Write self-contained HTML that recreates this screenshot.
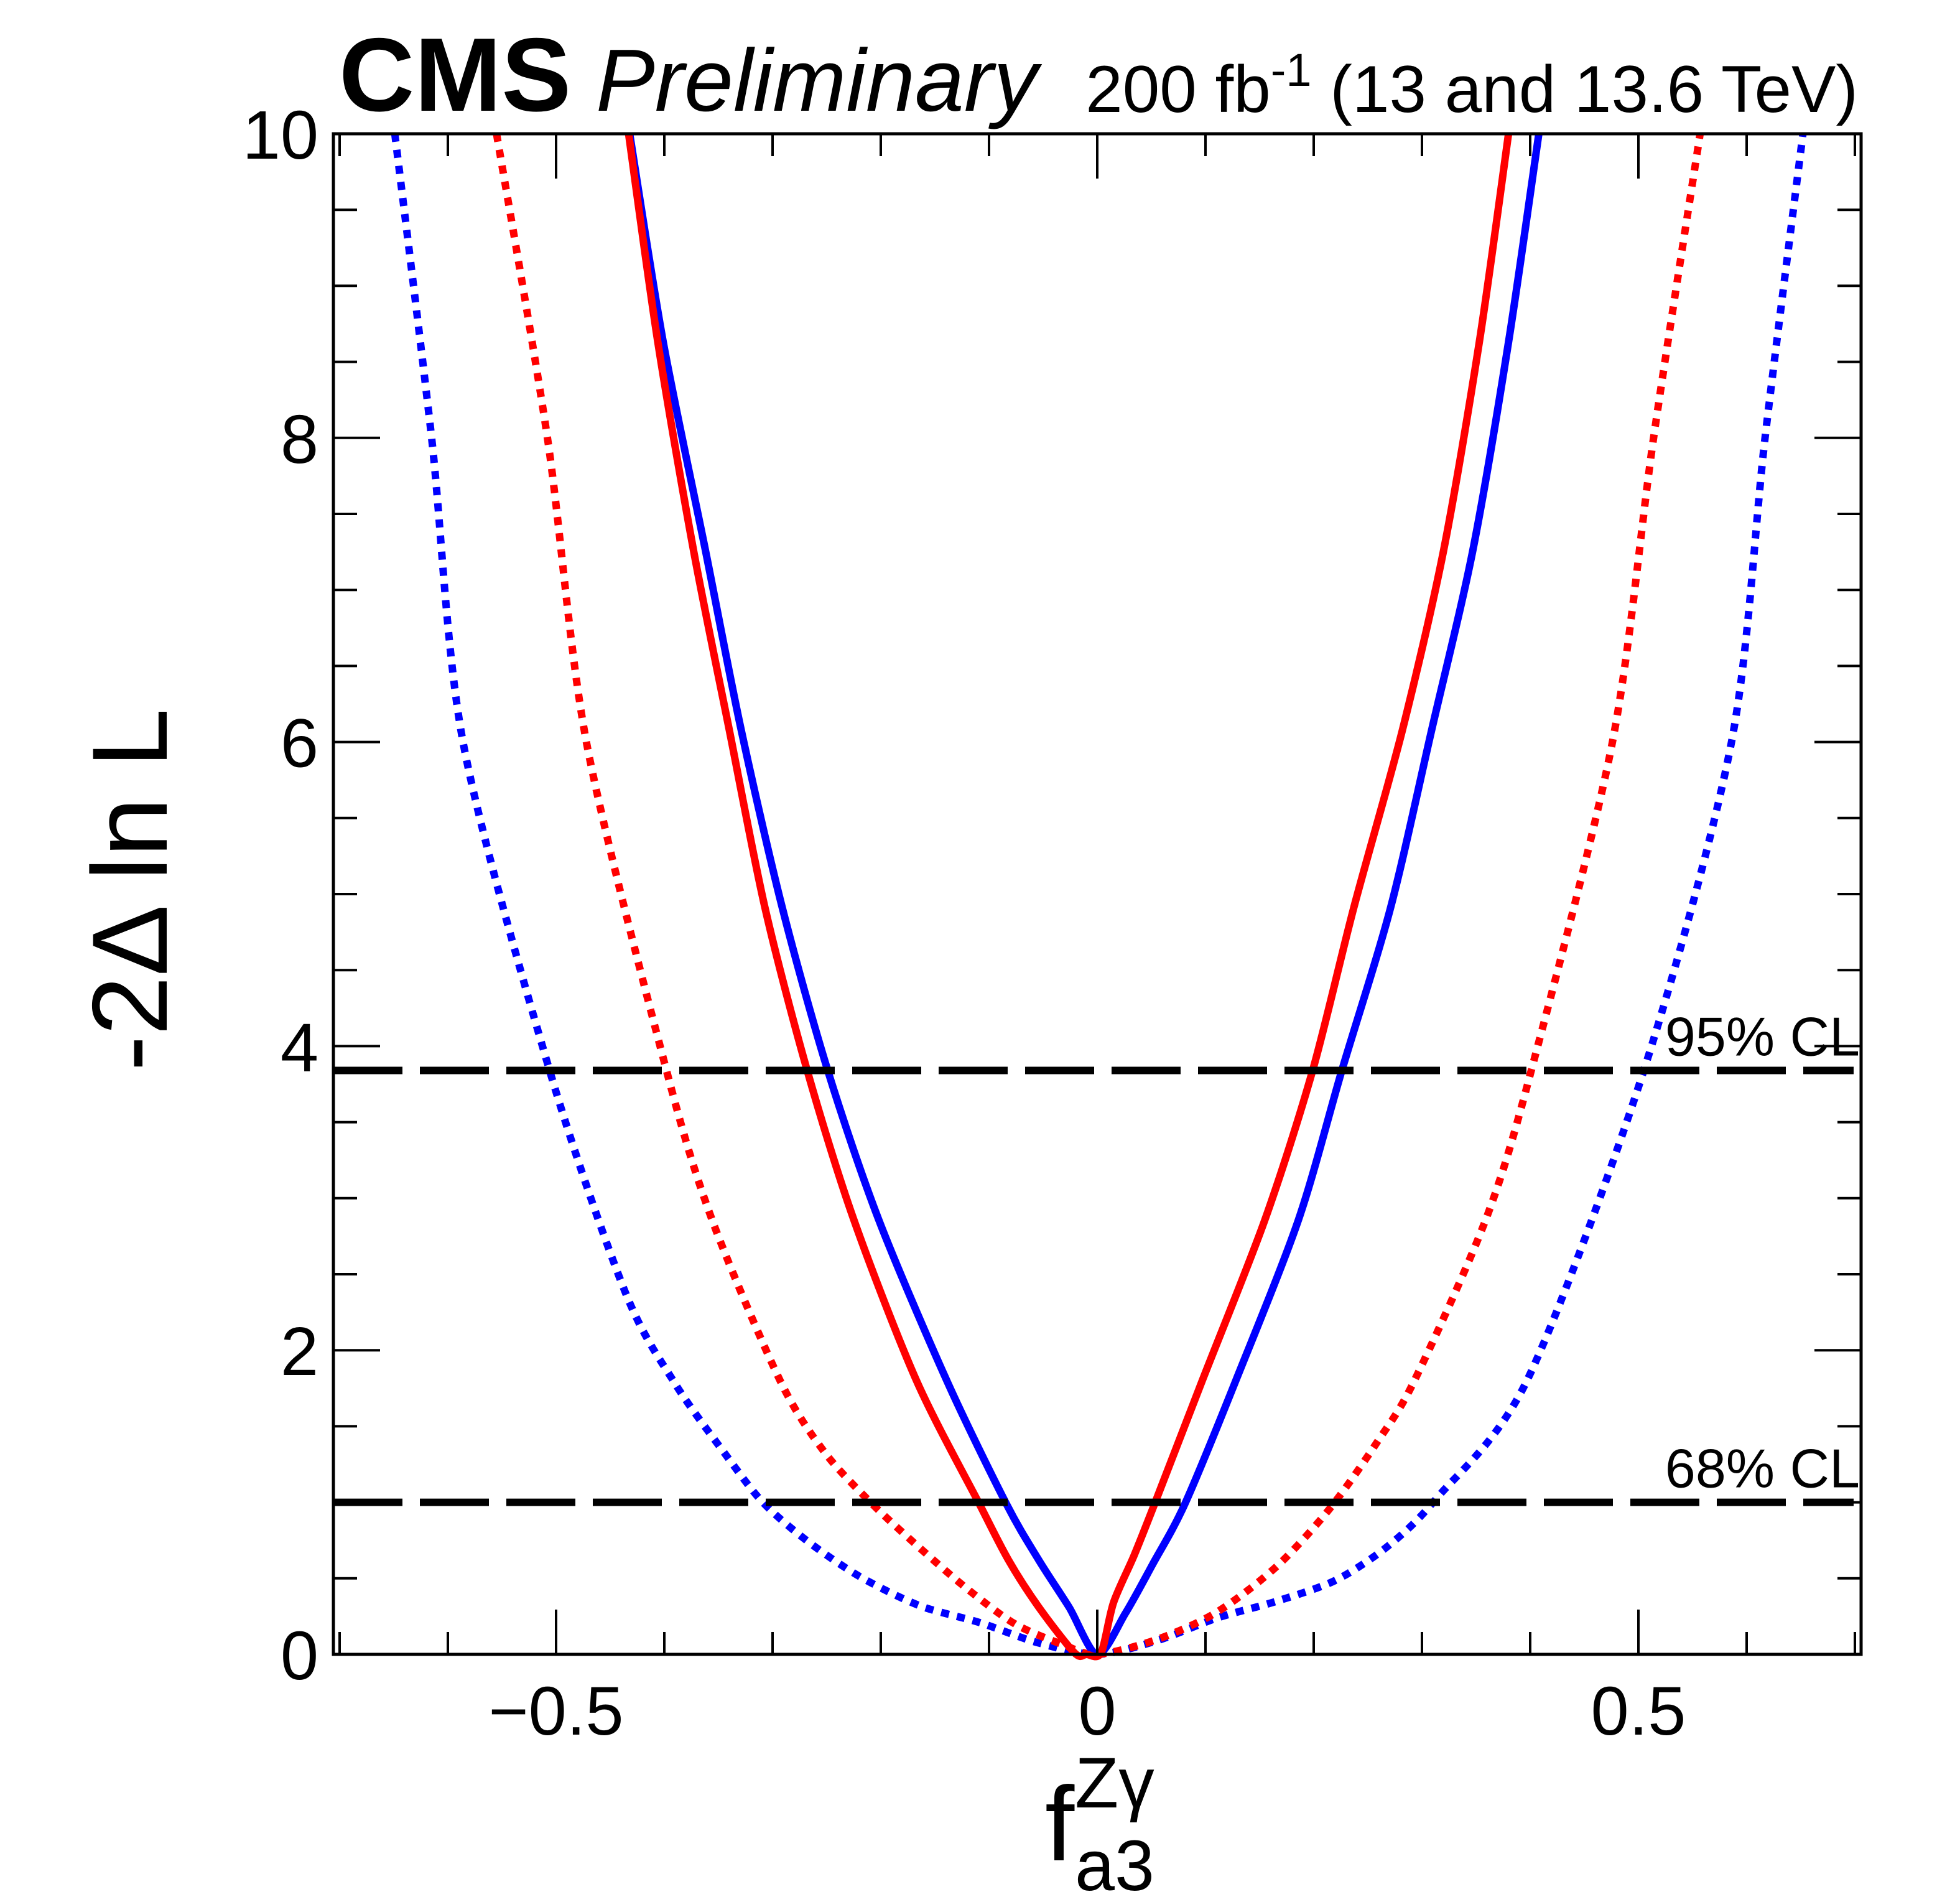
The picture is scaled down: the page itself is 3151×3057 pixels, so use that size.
<!DOCTYPE html>
<html><head><meta charset="utf-8"><style>
html,body{margin:0;padding:0;background:#fff}
svg{display:block}
text{font-family:"Liberation Sans",sans-serif;fill:#000}
</style></head><body>
<svg id="chart" width="3151" height="3057" viewBox="0 0 3151 3057" xmlns="http://www.w3.org/2000/svg">
<g id="curves"></g>
<g id="axes"></g>
<text x="545" y="178" font-size="168" font-weight="bold">CMS</text>
<text x="958" y="178" font-size="142" font-style="italic">Preliminary</text>
<text x="2987" y="180" font-size="107" text-anchor="end">200 fb<tspan dy="-42" font-size="74">-1</tspan><tspan dy="42"> (13 and 13.6 TeV)</tspan></text>
<text transform="translate(268,1430) rotate(-90)" font-size="172" text-anchor="middle">-2Δ ln L</text>
<g>
<text x="1680" y="2990" font-size="170">f</text>
<text x="1728" y="2905" font-size="115">Zγ</text>
<text x="1728" y="3038" font-size="115">a3</text>
</g>
</svg>
<script>
const xTickValues=[-0.5,0,0.5];
const xTickLabels=["\u22120.5","0","0.5"];
const yTickValues=[0,2,4,6,8,10];
const yTickLabels=["0","2","4","6","8","10"];
const clLevels=[3.84,1.0];
const clLabels=["95% CL","68% CL"];
const redSolidX=[-0.433,-0.406,-0.373,-0.340,-0.307,-0.268,-0.225,-0.167,-0.109,-0.082,-0.054,-0.021,-0.010,0.0035,0.015,0.034,0.053,0.097,0.155,0.199,0.237,0.282,0.320,0.353,0.380];
const redSolidY=[10,8.63,7.26,6.08,4.91,3.84,2.86,1.80,0.99,0.62,0.31,0.01,0,0.01,0.34,0.65,0.99,1.80,2.86,3.84,4.91,6.08,7.26,8.63,10];
const blueSolidX=[-0.432,-0.401,-0.362,-0.329,-0.291,-0.249,-0.202,-0.139,-0.084,-0.054,-0.026,0.0,0.026,0.051,0.081,0.128,0.186,0.226,0.271,0.309,0.347,0.380,0.408];
const blueSolidY=[10,8.63,7.26,6.08,4.91,3.84,2.86,1.80,0.99,0.62,0.31,0,0.27,0.59,0.99,1.80,2.86,3.84,4.91,6.08,7.26,8.63,10];
const redDotX=[-0.555,-0.508,-0.472,-0.398,-0.356,-0.293,-0.252,-0.208,-0.164,-0.120,-0.076,-0.032,0.0,0.056,0.111,0.166,0.215,0.259,0.293,0.359,0.401,0.476,0.514,0.557];
const redDotY=[10,8,6,3.84,2.86,1.80,1.33,0.99,0.70,0.43,0.20,0.065,0,0.10,0.28,0.58,0.96,1.40,1.80,2.86,3.84,6,8,10];
const blueDotX=[-0.649,-0.615,-0.586,-0.506,-0.436,-0.390,-0.344,-0.309,-0.268,-0.219,-0.164,-0.109,-0.055,0.0,0.056,0.111,0.166,0.221,0.270,0.314,0.397,0.505,0.586,0.617,0.652];
const blueDotY=[10,8,6,3.84,2.38,1.78,1.32,1.0,0.746,0.51,0.32,0.21,0.077,0,0.092,0.24,0.35,0.49,0.72,1.03,1.80,3.84,6,8,10];

const L=536,R=2992,T=215,B=2659,X0=1764,XS=1740;
const xPix=v=>X0+v*XS;
const yPix=v=>B-v*(B-T)/10;
const NS="http://www.w3.org/2000/svg";
const curves=document.getElementById('curves');
const axes=document.getElementById('axes');
function mk(tag,attrs,parent){const e=document.createElementNS(NS,tag);for(const k in attrs)e.setAttribute(k,attrs[k]);parent.appendChild(e);return e;}

function smoothPath(xs,ys){
  const p=xs.map((x,i)=>[xPix(x),yPix(ys[i])]);
  let d="M"+p[0][0]+","+p[0][1];
  for(let i=0;i<p.length-1;i++){
    const p0=p[i-1]||p[i],p1=p[i],p2=p[i+1],p3=p[i+2]||p2;
    const c1=[p1[0]+(p2[0]-p0[0])/7,p1[1]+(p2[1]-p0[1])/7];
    const c2=[p2[0]-(p3[0]-p1[0])/7,p2[1]-(p3[1]-p1[1])/7];
    d+=" C"+c1[0]+","+c1[1]+" "+c2[0]+","+c2[1]+" "+p2[0]+","+p2[1];
  }
  return d;
}
const defs=mk('defs',{},curves);
const cp=mk('clipPath',{id:'plotclip'},defs);
mk('rect',{x:L,y:T,width:R-L,height:B-T+20},cp);
const cg=mk('g',{'clip-path':'url(#plotclip)'},curves);

const series=[
 [blueDotX,blueDotY,'#0000ff','13 13','blue-dotted-curve'],
 [redDotX,redDotY,'#ff0000','13 13','red-dotted-curve'],
 [blueSolidX,blueSolidY,'#0000ff','none','blue-solid-curve'],
 [redSolidX,redSolidY,'#ff0000','none','red-solid-curve']
];
series.forEach(s=>{
  const el=mk('path',{d:smoothPath(s[0],s[1]),fill:'none',stroke:s[2],'stroke-width':12,'stroke-dasharray':s[3],'stroke-linejoin':'round'},cg);
  
  
});

clLevels.forEach((v,i)=>{
  const ln=mk('line',{x1:L,x2:2980,y1:yPix(v),y2:yPix(v),stroke:'#000','stroke-width':12,'stroke-dasharray':'111 28'},curves);
  
  
  const t=mk('text',{x:2990,y:yPix(v)-24,'font-size':88,'text-anchor':'end'},curves);
  t.textContent=clLabels[i];
  
  
});

const fr=mk('rect',{x:L,y:T,width:R-L,height:B-T,fill:'none',stroke:'#000','stroke-width':5},axes);


for(let k=-7;k<=7;k++){
  const v=k/10, x=xPix(v), len=(k%5===0)?72:36;
  mk('line',{x1:x,x2:x,y1:B,y2:B-len,stroke:'#000','stroke-width':4},axes);
  mk('line',{x1:x,x2:x,y1:T,y2:T+len,stroke:'#000','stroke-width':4},axes);
}
for(let k=0;k<=20;k++){
  const v=k/2, y=yPix(v), len=(k%4===0)?75:38;
  mk('line',{x1:L,x2:L+len,y1:y,y2:y,stroke:'#000','stroke-width':4},axes);
  mk('line',{x1:R,x2:R-len,y1:y,y2:y,stroke:'#000','stroke-width':4},axes);
}
xTickValues.forEach((v,i)=>{
  const t=mk('text',{x:xPix(v),y:2788,'font-size':110,'text-anchor':'middle'},axes);
  t.textContent=xTickLabels[i];
  
  
});
yTickValues.forEach((v,i)=>{
  const t=mk('text',{x:512,y:yPix(v)+40,'font-size':110,'text-anchor':'end'},axes);
  t.textContent=yTickLabels[i];
  
  
});
</script>
</body></html>
